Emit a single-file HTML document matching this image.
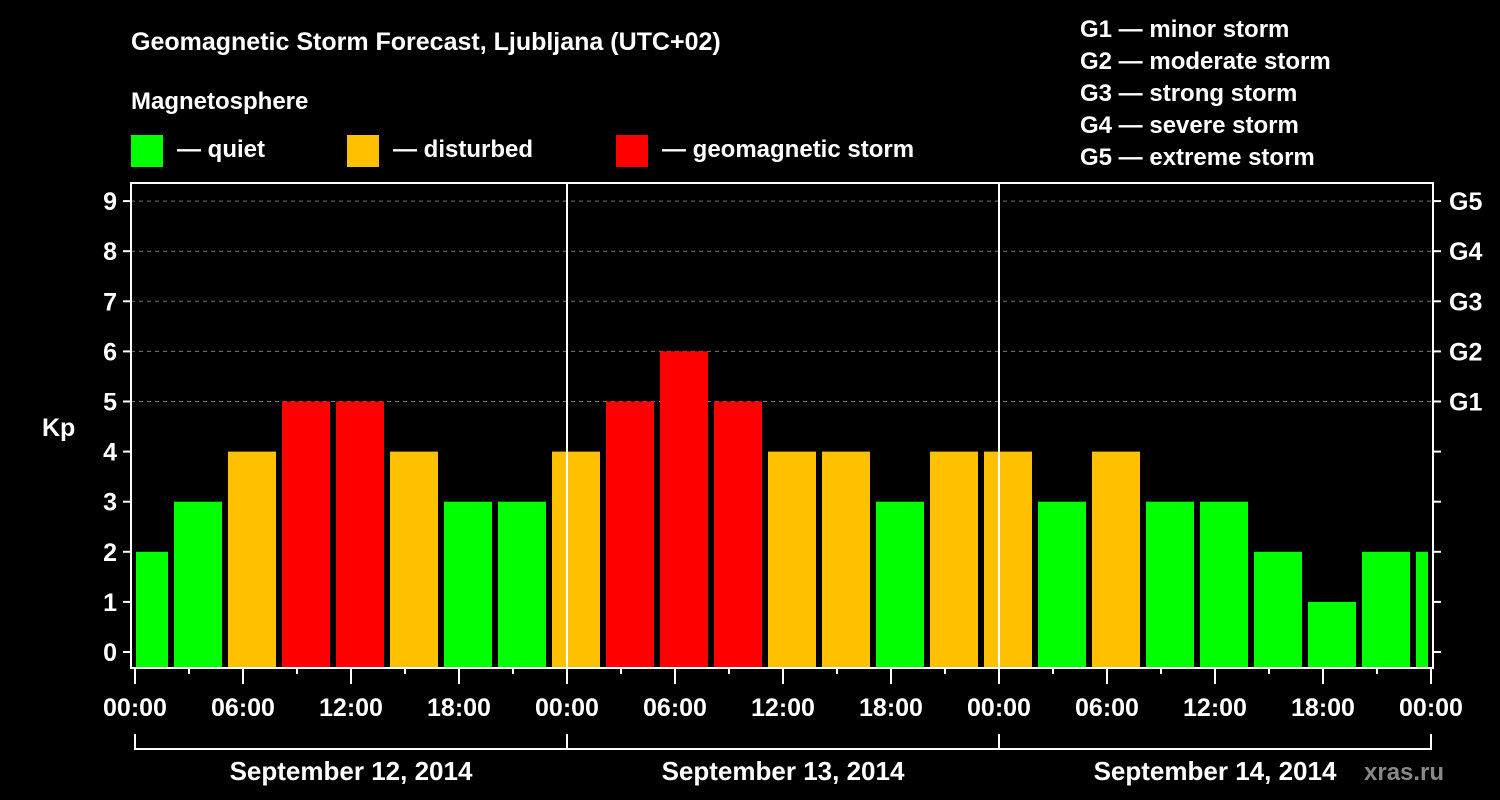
<!DOCTYPE html>
<html><head><meta charset="utf-8"><style>
html,body{margin:0;padding:0;background:#000;}
svg{display:block;font-family:"Liberation Sans",Arial,sans-serif;font-weight:bold;}
</style></head><body>
<svg id="chart" width="1500" height="800" viewBox="0 0 1500 800">
<rect x="0" y="0" width="1500" height="800" fill="#000"/>
<text x="131" y="50" fill="#fff" font-size="25">Geomagnetic Storm Forecast, Ljubljana (UTC+02)</text>
<text x="131" y="109" fill="#fff" font-size="24">Magnetosphere</text>
<g><rect x="131" y="135" width="32" height="32" fill="#00ff00"/><text x="177" y="157" fill="#fff" font-size="24">— quiet</text></g>
<g><rect x="347" y="135" width="32" height="32" fill="#ffc000"/><text x="393" y="157" fill="#fff" font-size="24">— disturbed</text></g>
<g><rect x="616" y="135" width="32" height="32" fill="#ff0000"/><text x="662" y="157" fill="#fff" font-size="24">— geomagnetic storm</text></g>
<g fill="#fff" font-size="24">
<text x="1080" y="37">G1 — minor storm</text>
<text x="1080" y="69">G2 — moderate storm</text>
<text x="1080" y="101">G3 — strong storm</text>
<text x="1080" y="133">G4 — severe storm</text>
<text x="1080" y="165">G5 — extreme storm</text>
</g>
<text x="42" y="436" fill="#fff" font-size="25">Kp</text>
<text x="1364" y="780" fill="#888" font-size="24">xras.ru</text>
<g id="grid"></g>
<g id="bars"></g>
<g id="axes"></g>
</svg>
<script>
const kpValues = [2,3,4,5,5,4,3,3,4,5,6,5,4,4,3,4,4,3,4,3,3,2,1,2,2];
const barStartHours = [-1,2,5,8,11,14,17,20,23,26,29,32,35,38,41,44,47,50,53,56,59,62,65,68,71];
const hourLabels = ["00:00","06:00","12:00","18:00","00:00","06:00","12:00","18:00","00:00","06:00","12:00","18:00","00:00"];
const dayLabels = ["September 12, 2014","September 13, 2014","September 14, 2014"];
const stormLabels = ["G1","G2","G3","G4","G5"];

const NS="http://www.w3.org/2000/svg";
const L=131,R=1433,T=183,B=668,X0=135,PXH=18;
const xs=h=>X0+h*PXH;
const ys=v=>652-v*50.1;
function mk(tag,attrs,parent){const e=document.createElementNS(NS,tag);for(const k in attrs)e.setAttribute(k,attrs[k]);parent.appendChild(e);return e;}
const grid=document.getElementById('grid'),bars=document.getElementById('bars'),axes=document.getElementById('axes');
for(let v=5;v<=9;v++){
  const l=mk('line',{x1:L,x2:R,y1:ys(v),y2:ys(v),stroke:'#777','stroke-width':1,'stroke-dasharray':'4,4'},grid);
  
  
}
kpValues.forEach((v,i)=>{
  const h=barStartHours[i];
  let x0=xs(h)+3,x1=xs(h+3)-3;
  x0=Math.max(x0,136);x1=Math.min(x1,1428);
  const c=v>=5?'#ff0000':(v>=4?'#ffc000':'#00ff00');
  const r=mk('rect',{x:x0,y:ys(v),width:x1-x0,height:B-ys(v),fill:c},bars);
  
  
});
// day separators
[24,48].forEach(h=>{
  const l=mk('line',{x1:xs(h),x2:xs(h),y1:T,y2:B,stroke:'#fff','stroke-width':2},axes);
  
  
});
const frame=mk('rect',{x:L,y:T,width:R-L,height:B-T,fill:'none',stroke:'#fff','stroke-width':2},axes);


for(let v=0;v<=9;v++){
  mk('line',{x1:L-8,x2:L,y1:ys(v),y2:ys(v),stroke:'#fff','stroke-width':2},axes);
  const t=mk('text',{x:L-14,y:ys(v)+9,fill:'#fff','font-size':25,'text-anchor':'end'},axes);
  t.textContent=v;
  
  
  mk('line',{x1:R,x2:R+8,y1:ys(v),y2:ys(v),stroke:'#fff','stroke-width':2},axes);
  if(v>=5){
    const g=mk('text',{x:R+16,y:ys(v)+9,fill:'#fff','font-size':25},axes);
    g.textContent=stormLabels[v-5];
    
    
  }
}
for(let h=0;h<=72;h+=3){
  const major=h%6===0;
  mk('line',{x1:xs(h),x2:xs(h),y1:B,y2:major?684:674,stroke:'#fff','stroke-width':2},axes);
}
hourLabels.forEach((s,i)=>{
  const t=mk('text',{x:xs(i*6),y:716,fill:'#fff','font-size':25,'text-anchor':'middle'},axes);
  t.textContent=s;
  
  
});
mk('line',{x1:xs(0),x2:xs(72),y1:749,y2:749,stroke:'#fff','stroke-width':2},axes);
for(let d=0;d<=3;d++) mk('line',{x1:xs(d*24),x2:xs(d*24),y1:734,y2:750,stroke:'#fff','stroke-width':2},axes);
dayLabels.forEach((s,i)=>{
  const t=mk('text',{x:xs(i*24+12),y:780,fill:'#fff','font-size':26,'text-anchor':'middle'},axes);
  t.textContent=s;
  
  
});
</script>
</body></html>
